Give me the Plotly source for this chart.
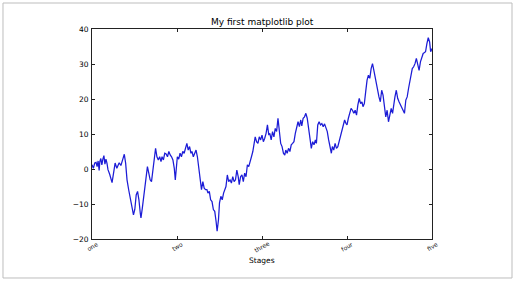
import plotly.graph_objects as go

# Random-walk values (step index, value)
steps = [0, 4, 8, 12, 15, 18, 21, 23, 26, 29, 32, 35, 38, 41, 44, 47, 52, 59, 68, 73, 80, 85, 90, 95, 99,
         103, 108, 112, 118, 122, 126, 130, 134, 138, 142, 144, 148, 152, 156, 160,
         163, 167, 171, 175, 179, 183, 187, 191, 195, 199, 203, 206, 210, 214, 218, 222, 226, 230, 234, 238, 242, 245,
         248, 251, 255, 259, 263, 267, 271, 275, 279, 283, 287, 291, 294, 298, 302, 306, 310, 314, 318, 322, 326, 330,
         334, 338, 341, 345, 349, 353, 357, 361, 365, 368, 372, 375, 379, 383, 387, 390, 394, 398, 402, 406, 410, 414,
         418, 422, 426, 430, 433, 437, 441, 445, 449, 453, 457, 461, 465, 469, 473, 477, 480, 484, 488, 492, 496, 500,
         504, 508, 512, 516, 520, 523, 527, 531, 535, 539, 543, 547, 551, 555, 559, 563, 567, 570, 574, 578, 582, 586,
         590, 594, 598, 602, 606, 610, 614, 617, 621, 625, 629, 633, 637, 641, 645, 649, 653, 657, 660, 664, 668, 672,
         676, 680, 684, 688, 692, 696, 700, 704, 707, 711, 715, 719, 723, 727, 731, 735, 739, 743, 747, 750, 754, 758,
         762, 766, 770, 774, 778, 782, 786, 790, 794, 797, 801, 805, 809, 813, 817, 821, 825, 829, 833, 837, 840, 844,
         848, 852, 856, 860, 864, 868, 872, 876, 880, 884, 887, 891, 895, 899, 903, 907, 911, 915, 919, 923, 927, 931,
         934, 938, 942, 946, 950, 954, 958, 962, 966, 970, 974, 977, 981, 985, 989, 993, 996, 1000]
values = [1.2, 0.2, 1.7, 1.9, 0.7, 2.3, -0.4, 2.1, 3.0, 1.2, 2.8, 3.8, 1.4, 2.8, 1.7, -0.2, -1.5, -3.9, 1.7, 0.2,
          1.8, 1.0, 2.6, 4.2, 1.6, -3.1, -6.0, -7.9, -10.7, -13.1, -11.5, -7.4, -6.4, -8.8, -12.6, -14.0, -11.2, -7.9,
          -5.5, -3.1,
          0.7, -1.2, -3.1, -3.6, -0.3, 3.5, 5.9, 3.5, 2.6, 3.5, 2.1, 3.5, 2.6, 4.5, 4.3, 3.5, 5.0, 4.0, 3.5, 2.6, 0.2,
          -3.1,
          1.7, 3.5, 2.8, 4.5, 3.5, 5.0, 4.5, 5.9, 7.3, 5.4, 6.4, 4.5, 5.0, 3.5, 4.5, 5.4, 3.5, -0.3, -3.1, -5.9, -3.6,
          -5.5, -5.9, -5.9, -6.9, -6.4, -8.8, -9.3, -11.6, -12.1, -15.0, -17.8, -14.5, -9.7, -7.8, -8.8, -6.9, -5.9,
          -5.0, -1.7, -3.6, -3.1, -4.0, -2.2, -3.6, -3.1, -0.3, -2.2, -4.5, -2.2, -1.7, -3.6, -1.2, -2.2, 1.2, 0.7,
          2.6, 3.5, 5.0, 7.3, 9.2, 7.8, 7.3, 9.2, 8.3, 9.7, 7.8, 8.8, 10.2, 12.6, 9.7, 10.2, 8.3, 10.7, 9.2, 11.6,
          10.7, 14.5, 10.2, 7.3, 6.4, 4.5, 4.0, 5.4, 4.5, 5.9, 5.0, 6.9, 7.3, 7.8, 10.2, 11.6, 13.5, 12.1, 14.0, 12.3,
          14.5, 14.9, 15.9, 14.5, 12.1, 8.8, 5.9, 7.8, 6.9, 8.3, 7.3, 12.6, 13.5, 12.6, 13.0, 12.1, 12.9, 11.6, 10.7,
          8.3, 6.4, 4.5, 6.4, 5.4, 7.3, 5.9, 6.4, 7.8, 9.2, 10.7, 12.1, 14.0, 13.0, 12.6, 14.5, 15.9, 17.3, 16.8, 15.9,
          16.8, 15.4, 18.3, 20.2, 18.7, 19.2, 17.8, 18.7, 22.1, 25.4, 26.8, 25.9, 28.7, 30.1, 28.2, 25.9, 24.0, 23.0,
          20.6, 19.2, 22.5, 21.1, 18.3, 14.9, 16.8, 13.5, 15.4, 17.3, 15.9, 18.7, 20.6, 22.5, 20.2, 19.2, 18.3, 17.3,
          16.4, 15.9, 19.7, 20.6, 23.0, 24.9, 26.8, 28.7, 29.2, 30.1, 31.6, 29.7, 28.2, 30.6, 32.0, 33.0, 33.2, 33.5,
          35.8, 37.5, 36.3, 33.5, 34.4]

tick_positions = [0, 250, 500, 750, 1000]
tick_labels = ["one", "two", "three", "four", "five"]
y_ticks = [-20, -10, 0, 10, 20, 30, 40]

title_text = "My first matplotlib plot"
x_title = "Stages"

FONT = "DejaVu Sans"

fig = go.Figure()
fig.add_trace(go.Scatter(x=steps, y=values, mode="lines",
                         line=dict(color="#1c1cd6", width=1.25), hoverinfo="skip"))

# rotated x tick labels, centred on their ticks like matplotlib
for pos, lab in zip(tick_positions, tick_labels):
    fig.add_annotation(x=pos, y=-0.038, xref="x", yref="paper", text=lab, showarrow=False,
                       textangle=-30, font=dict(family=FONT, size=6, color="#222222"),
                       xanchor="center", yanchor="middle")

fig.add_annotation(x=0.5, y=1.0, xref="paper", yref="paper", yshift=0, text=title_text, showarrow=False,
                   font=dict(family=FONT, size=9, color="black"), xanchor="center", yanchor="bottom")
fig.add_annotation(x=0.5, y=-0.1, xref="paper", yref="paper", text=x_title, showarrow=False,
                   font=dict(family=FONT, size=7.5, color="black"), xanchor="center", yanchor="middle")

# light grey outer frame of the picture
fig.add_shape(type="rect", xref="paper", yref="paper", x0=-0.2618, x1=1.2353, y0=-0.1857, y1=1.1238,
              line=dict(color="#bdbdbd", width=1), layer="below")

axis_common = dict(showline=True, linecolor="#222222", linewidth=1, mirror="ticks",
                   ticks="inside", ticklen=3, tickcolor="#222222", showgrid=False, zeroline=False)

fig.update_layout(
    width=515, height=281,
    margin=dict(l=92, r=83, t=29, b=42),
    paper_bgcolor="white", plot_bgcolor="white",
    showlegend=False,
    font=dict(family=FONT, size=7, color="black"),
    xaxis=dict(range=[0, 1000], tickvals=tick_positions, showticklabels=False, **axis_common),
    yaxis=dict(range=[-20, 40], tickvals=y_ticks, tickfont=dict(family=FONT, size=7.5, color="black"),
               ticklabelstandoff=1, **axis_common),
)

fig.write_html("out.html")
